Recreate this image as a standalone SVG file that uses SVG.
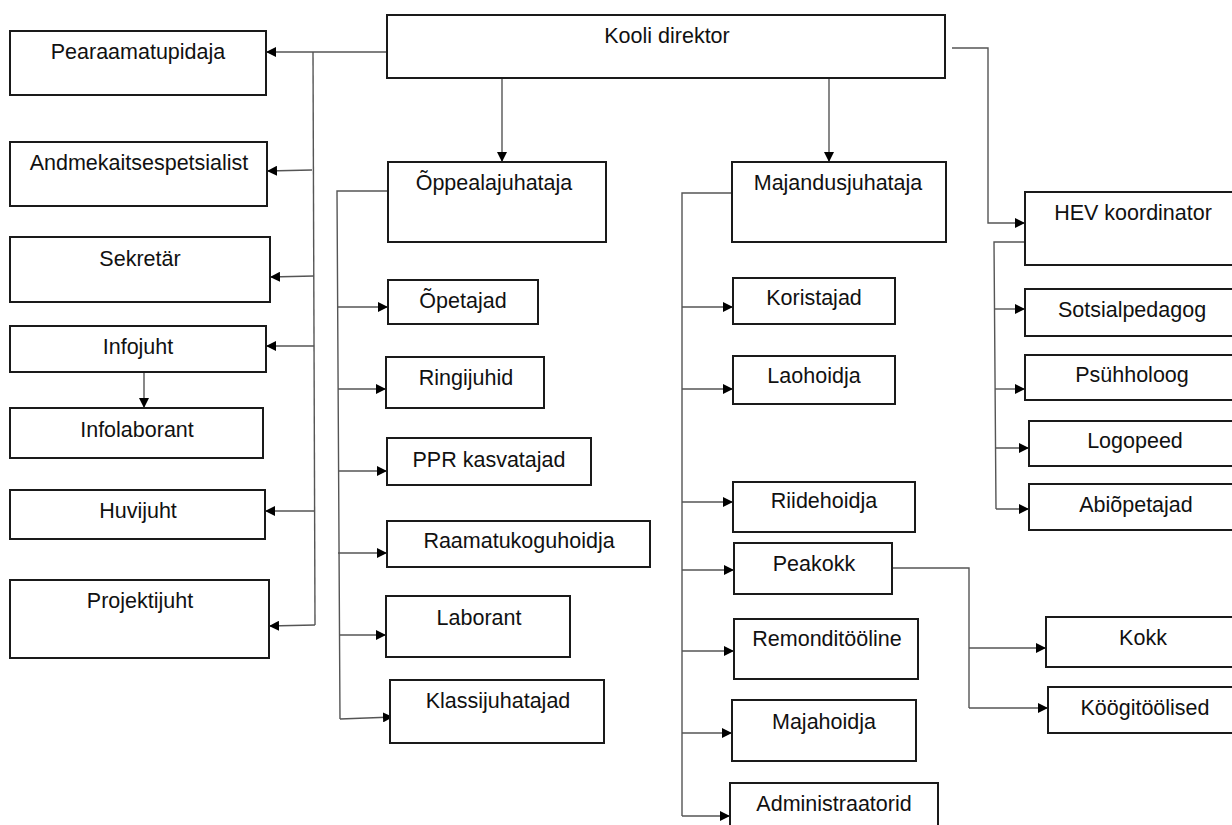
<svg xmlns="http://www.w3.org/2000/svg" width="1232" height="825" viewBox="0 0 1232 825">
<defs>
<style>
.box{fill:#fff;stroke:#1a1a1a;stroke-width:2}
.lbl{font-family:"Liberation Sans",Arial,sans-serif;font-size:21.5px;fill:#111;text-anchor:middle}
.ln{fill:none;stroke:#555;stroke-width:1.4}
.ar{fill:none;stroke:#555;stroke-width:1.4;marker-end:url(#ah)}
</style>
<marker id="ah" markerUnits="userSpaceOnUse" markerWidth="11" markerHeight="10" refX="10" refY="5" orient="auto">
<path d="M0,0 L10,5 L0,10 z" fill="#000"/>
</marker>
</defs>
<rect width="1232" height="825" fill="#fff"/>

<g id="connectors">
<!-- director to left staff -->
<path class="ar" d="M387,52 H266"/>
<path class="ln" d="M313,52 L315,625"/>
<path class="ar" d="M312,170 L267,171"/>
<path class="ar" d="M314,276 L270,277"/>
<path class="ar" d="M314,346 L266,346"/>
<path class="ar" d="M315,511 H265"/>
<path class="ar" d="M315,625 L269,626"/>
<path class="ar" d="M144,372 V408"/>
<!-- director down -->
<path class="ar" d="M502,78 V162"/>
<path class="ar" d="M829,78 V162"/>
<!-- director to HEV -->
<path class="ar" d="M952,48 H988 V223 H1025"/>
<!-- Oppealajuhataja -->
<path class="ln" d="M388,191 H337 L340,719"/>
<path class="ar" d="M337,307 H388"/>
<path class="ar" d="M338,389 H386"/>
<path class="ar" d="M338,471 H387"/>
<path class="ar" d="M338,553 H387"/>
<path class="ar" d="M339,635 H386"/>
<path class="ar" d="M340,719 L393,717"/>
<!-- Majandusjuhataja -->
<path class="ln" d="M732,193 H682 V816"/>
<path class="ar" d="M682,307 H733"/>
<path class="ar" d="M682,389 H733"/>
<path class="ar" d="M682,502 H733"/>
<path class="ar" d="M682,570 H734"/>
<path class="ar" d="M682,651 H734"/>
<path class="ar" d="M682,733 H732"/>
<path class="ar" d="M682,816 H730"/>
<!-- Peakokk -->
<path class="ln" d="M893,568 H969 V708"/>
<path class="ar" d="M969,648 H1046"/>
<path class="ar" d="M969,708 H1048"/>
<!-- HEV -->
<path class="ln" d="M1025,242 H994 L996,509"/>
<path class="ar" d="M994,309 H1025"/>
<path class="ar" d="M995,389 H1025"/>
<path class="ar" d="M995,448 H1029"/>
<path class="ar" d="M996,509 H1029"/>
</g>

<g id="n-director"><rect class="box" x="387" y="15" width="558" height="63"/><text class="lbl" x="667" y="43">Kooli direktor</text></g>

<g id="n-pearaamatupidaja"><rect class="box" x="10" y="31" width="256" height="64"/><text class="lbl" x="138" y="59">Pearaamatupidaja</text></g>
<g id="n-andmekaitse"><rect class="box" x="10" y="142" width="257" height="64"/><text class="lbl" x="139" y="170">Andmekaitsespetsialist</text></g>
<g id="n-sekretar"><rect class="box" x="10" y="237" width="260" height="65"/><text class="lbl" x="140" y="266">Sekretär</text></g>
<g id="n-infojuht"><rect class="box" x="10" y="326" width="256" height="46"/><text class="lbl" x="138" y="354">Infojuht</text></g>
<g id="n-infolaborant"><rect class="box" x="10" y="408" width="253" height="50"/><text class="lbl" x="137" y="437">Infolaborant</text></g>
<g id="n-huvijuht"><rect class="box" x="10" y="490" width="255" height="49"/><text class="lbl" x="138" y="518">Huvijuht</text></g>
<g id="n-projektijuht"><rect class="box" x="10" y="580" width="259" height="78"/><text class="lbl" x="140" y="608">Projektijuht</text></g>

<g id="n-oppealajuhataja"><rect class="box" x="388" y="162" width="218" height="80"/><text class="lbl" x="494" y="190">Õppealajuhataja</text></g>
<g id="n-opetajad"><rect class="box" x="388" y="280" width="150" height="44"/><text class="lbl" x="463" y="308">Õpetajad</text></g>
<g id="n-ringijuhid"><rect class="box" x="386" y="357" width="158" height="51"/><text class="lbl" x="466" y="385">Ringijuhid</text></g>
<g id="n-ppr"><rect class="box" x="387" y="438" width="204" height="47"/><text class="lbl" x="489" y="467">PPR kasvatajad</text></g>
<g id="n-raamatukoguhoidja"><rect class="box" x="387" y="521" width="263" height="46"/><text class="lbl" x="519" y="548">Raamatukoguhoidja</text></g>
<g id="n-laborant"><rect class="box" x="386" y="596" width="184" height="61"/><text class="lbl" x="479" y="625">Laborant</text></g>
<g id="n-klassijuhatajad"><rect class="box" x="390" y="680" width="214" height="63"/><text class="lbl" x="498" y="708">Klassijuhatajad</text></g>

<g id="n-majandusjuhataja"><rect class="box" x="732" y="162" width="214" height="80"/><text class="lbl" x="838" y="190">Majandusjuhataja</text></g>
<g id="n-koristajad"><rect class="box" x="733" y="278" width="162" height="46"/><text class="lbl" x="814" y="305">Koristajad</text></g>
<g id="n-laohoidja"><rect class="box" x="733" y="356" width="162" height="48"/><text class="lbl" x="814" y="383">Laohoidja</text></g>
<g id="n-riidehoidja"><rect class="box" x="733" y="482" width="182" height="50"/><text class="lbl" x="824" y="508">Riidehoidja</text></g>
<g id="n-peakokk"><rect class="box" x="734" y="543" width="158" height="51"/><text class="lbl" x="814" y="571">Peakokk</text></g>
<g id="n-remonditooline"><rect class="box" x="734" y="619" width="184" height="60"/><text class="lbl" x="827" y="646">Remonditööline</text></g>
<g id="n-majahoidja"><rect class="box" x="732" y="700" width="184" height="61"/><text class="lbl" x="824" y="729">Majahoidja</text></g>
<g id="n-administraatorid"><rect class="box" x="730" y="783" width="208" height="60"/><text class="lbl" x="834" y="811">Administraatorid</text></g>

<g id="n-kokk"><rect class="box" x="1046" y="617" width="200" height="50"/><text class="lbl" x="1143" y="645">Kokk</text></g>
<g id="n-kookitoolised"><rect class="box" x="1048" y="687" width="200" height="46"/><text class="lbl" x="1145" y="715">Köögitöölised</text></g>

<g id="n-hev"><rect class="box" x="1025" y="192" width="220" height="73"/><text class="lbl" x="1133" y="220">HEV koordinator</text></g>
<g id="n-sotsialpedagog"><rect class="box" x="1025" y="289" width="220" height="47"/><text class="lbl" x="1132" y="317">Sotsialpedagog</text></g>
<g id="n-psuhholoog"><rect class="box" x="1025" y="355" width="220" height="45"/><text class="lbl" x="1132" y="382">Psühholoog</text></g>
<g id="n-logopeed"><rect class="box" x="1029" y="421" width="220" height="45"/><text class="lbl" x="1135" y="448">Logopeed</text></g>
<g id="n-abiopetajad"><rect class="box" x="1029" y="484" width="220" height="46"/><text class="lbl" x="1136" y="512">Abiõpetajad</text></g>
</svg>
